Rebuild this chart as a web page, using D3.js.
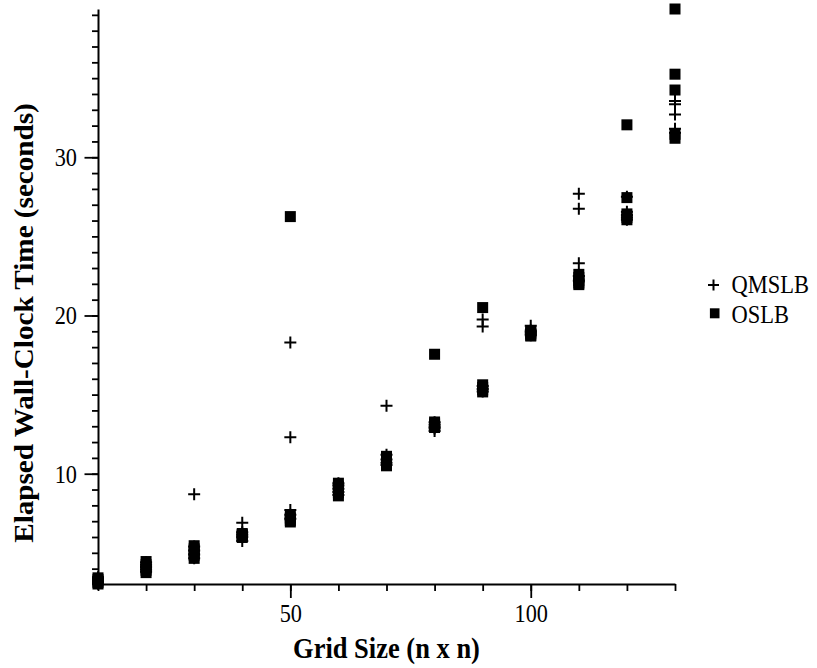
<!DOCTYPE html>
<html>
<head>
<meta charset="utf-8">
<script src="https://cdn.jsdelivr.net/npm/d3@7"></script>
<style>
  html, body { margin: 0; padding: 0; background: #fff; }
  svg { display: block; }
  text { font-family: "Liberation Serif", "Times New Roman", Times, serif; fill: #000; }
</style>
</head>
<body>
<svg id="chart" width="817" height="668"></svg>
<script>
// Grid sizes (n for an n x n grid) and the elapsed wall-clock times of each run, in seconds
const gridSizes = [10, 20, 30, 40, 50, 60, 70, 80, 90, 100, 110, 120, 130];

const qmslbTimes = [
  [3.05, 3.15, 3.25, 3.35, 3.45],
  [3.8, 3.95, 4.1, 4.25, 4.4],
  [8.7, 4.65, 4.9, 5.15, 5.4],
  [6.9, 5.75, 6.0, 6.15, 6.3],
  [18.3, 12.3, 7.7, 7.4, 7.15],
  [8.65, 8.85, 9.05, 9.25, 9.4],
  [14.3, 11.2, 10.9, 10.7, 10.55],
  [13.25, 13.1, 12.95, 12.85, 12.7],
  [19.75, 19.3, 15.55, 15.35, 15.2],
  [19.35, 19.05, 18.95, 18.85, 18.75],
  [27.7, 26.75, 23.3, 22.5, 22.2],
  [27.5, 26.55, 26.35, 26.2, 26.05],
  [33.55, 33.35, 32.7, 31.8, 31.55]
];

const oslbTimes = [
  [3.03, 3.12, 3.22, 3.32, 3.42],
  [3.75, 3.9, 4.05, 4.25, 4.45],
  [4.65, 4.85, 5.05, 5.25, 5.45],
  [5.97, 6.03, 6.1, 6.16, 6.22],
  [26.25, 7.35, 7.2, 7.05, 6.95],
  [8.6, 8.8, 9.0, 9.2, 9.4],
  [10.5, 10.7, 10.85, 11.0, 11.1],
  [17.55, 13.27, 13.15, 13.0, 12.92],
  [20.5, 15.62, 15.45, 15.3, 15.17],
  [19.05, 18.95, 18.85, 18.75, 18.7],
  [22.6, 22.4, 22.2, 22.05, 21.95],
  [32.05, 27.45, 26.42, 26.2, 26.05],
  [39.37, 35.25, 34.25, 31.45, 31.2]
];

const seriesNames = ["QMSLB", "OSLB"];
const xMajorTicks = [50, 100];
const yMajorTicks = [10, 20, 30];

const xTitle = "Grid Size (n x n)";
const yTitle = "Elapsed Wall-Clock Time (seconds)";

// Layout
const plotLeft = 98, plotRight = 675, plotTop = 9, plotBottom = 584;
const vStretch = 1.1; // text is drawn slightly taller than wide

const svg = d3.select("#chart");

// Flatten the runs into points
function toPoints(table) {
  const pts = [];
  table.forEach((runs, i) => runs.forEach(v => pts.push({ n: gridSizes[i], t: v })));
  return pts;
}
const qPts = toPoints(qmslbTimes);
const oPts = toPoints(oslbTimes);

const x = d3.scaleLinear().domain(d3.extent(gridSizes)).range([plotLeft, plotRight]);
const y = d3.scaleLinear().domain(d3.extent(qPts.concat(oPts), d => d.t)).range([plotBottom, plotTop]);

const minorX = d3.range(10, 131, 10);
const minorY = d3.range(Math.ceil(y.domain()[0]), Math.floor(y.domain()[1]) + 1, 1);

// ----- axes -----
function styleAxis(g) {
  g.attr("font-family", null).attr("font-size", null);
  g.selectAll("path.domain").attr("stroke", "#000").attr("stroke-width", 2);
  g.selectAll(".tick line").attr("stroke", "#000").attr("stroke-width", 1.8);
}

// x axis: minor ticks then labelled major ticks
svg.append("g")
  .attr("transform", `translate(0,${plotBottom})`)
  .call(d3.axisBottom(x).tickValues(minorX).tickSize(7).tickSizeOuter(0).tickFormat(""))
  .call(styleAxis);

const gxMajor = svg.append("g")
  .attr("transform", `translate(0,${plotBottom})`)
  .call(d3.axisBottom(x).tickValues(xMajorTicks).tickSize(14).tickSizeOuter(0).tickFormat(d3.format("d")))
  .call(styleAxis);
gxMajor.select("path.domain").remove();
gxMajor.selectAll(".tick text")
  .attr("y", null).attr("dy", null)
  .attr("transform", `translate(0,${622 - plotBottom}) scale(1,${vStretch})`)
  .attr("font-size", 22.3)
  .attr("text-anchor", "middle");

// y axis: minor ticks then labelled major ticks
svg.append("g")
  .attr("transform", `translate(${plotLeft},0)`)
  .call(d3.axisLeft(y).tickValues(minorY).tickSize(6).tickSizeOuter(0).tickFormat(""))
  .call(styleAxis);

const gyMajor = svg.append("g")
  .attr("transform", `translate(${plotLeft},0)`)
  .call(d3.axisLeft(y).tickValues(yMajorTicks).tickSize(13.5).tickSizeOuter(0).tickFormat(d3.format("d")))
  .call(styleAxis);
gyMajor.select("path.domain").remove();
gyMajor.selectAll(".tick text")
  .attr("x", null).attr("dy", null)
  .attr("transform", `translate(${77 - plotLeft},8.3) scale(1,${vStretch})`)
  .attr("font-size", 22.3)
  .attr("text-anchor", "end");

// ----- titles -----
svg.append("text")
  .attr("transform", `translate(386.5,658) scale(1,${vStretch})`)
  .attr("text-anchor", "middle")
  .attr("font-size", 26.5)
  .attr("font-weight", "bold")
  .text(xTitle);

svg.append("text")
  .attr("transform", `translate(33,323) scale(1,${vStretch}) rotate(-90)`)
  .attr("text-anchor", "middle")
  .attr("font-size", 26.5)
  .attr("font-weight", "bold")
  .text(yTitle);

// ----- marks -----
const plusHalf = 6, sq = 11;

function plusPath(cx, cy, h) {
  return `M${cx - h},${cy}H${cx + h}M${cx},${cy - h}V${cy + h}`;
}

svg.append("g").selectAll("path")
  .data(qPts)
  .join("path")
  .attr("d", d => plusPath(x(d.n), y(d.t), plusHalf))
  .attr("stroke", "#000")
  .attr("stroke-width", 2)
  .attr("fill", "none");

svg.append("g").selectAll("rect")
  .data(oPts)
  .join("rect")
  .attr("x", d => x(d.n) - sq / 2)
  .attr("y", d => y(d.t) - sq / 2)
  .attr("width", sq)
  .attr("height", sq)
  .attr("fill", "#000");

// ----- legend -----
const legend = svg.append("g");
legend.append("path")
  .attr("d", plusPath(713.5, 285, 5.5))
  .attr("stroke", "#000").attr("stroke-width", 2).attr("fill", "none");
legend.append("rect")
  .attr("x", 714.7 - 4.8).attr("y", 313.3 - 5)
  .attr("width", 9.6).attr("height", 10)
  .attr("fill", "#000");
legend.selectAll("text.label")
  .data(seriesNames)
  .join("text")
  .attr("class", "label")
  .attr("transform", (d, i) => `translate(731.5,${293 + i * 30}) scale(1,${vStretch})`)
  .attr("font-size", 22.5)
  .text(d => d);
</script>
</body>
</html>
